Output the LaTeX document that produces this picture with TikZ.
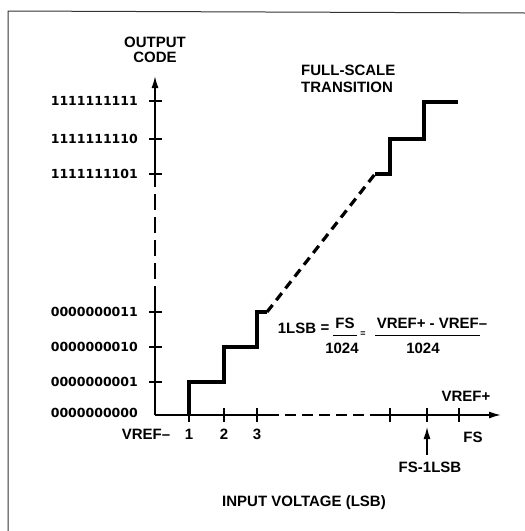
\documentclass[tikz,border=0pt]{standalone}
\usepackage{fontspec}
\setmainfont{Liberation Sans}
\newfontfamily\codefont{DejaVu Sans}
\usetikzlibrary{arrows.meta}
\usetikzlibrary{positioning}
\tikzset{lbl/.style={font=\fontsize{15}{17}\selectfont\bfseries,inner sep=0pt}}
\tikzset{codelbl/.style={font=\codefont\fontsize{12.5}{15}\selectfont\bfseries,inner sep=0pt}}

\begin{document}
\begin{tikzpicture}[x=1pt,y=-1pt]
  % some styles
  \tikzset{
    axis/.style={line width=1.6pt,black},
    axisdash/.style={axis,dash pattern=on 16pt off 7pt},
    xdash/.style={axis,dash pattern=on 11pt off 6pt},
    stair/.style={line width=3.2pt,black,line join=miter},
    stairdash/.style={stair,dash pattern=on 9pt off 6pt},
    tick/.style={line width=1.3pt},
    tip/.style={-{Latex[length=12pt,width=7pt]}}
  }
\useasboundingbox (0,0) rectangle (525,531);
% frame
\draw[line width=1pt,black!80] (8,531) -- (8,11) -- (525,13);

% axes
\coordinate (O) at (155,415);
\coordinate (ya) at (155,302);
\coordinate (yb) at (155,180);
\coordinate (ytip) at (155,76);
\coordinate (xa) at (268,415);
\coordinate (xb) at (378,415);
\coordinate (xtip) at (501,415);
\draw[axis] (O) -- (ya);
\draw[axisdash] (ya) -- (yb);
\draw[axis,tip] (yb) -- (ytip);
\draw[axis] (O) -- (xa);
\draw[xdash] (xa) -- (xb);
\draw[axis,tip] (xb) -- (xtip);

% y ticks and codes
\node[codelbl,anchor=east] (c0) at (138,413) {0000000000};
\foreach \y/\code in {382/0000000001,347/0000000010,312/0000000011,
                      174/1111111101,139/1111111110,101/1111111111} {
   \draw[tick] (149,\y) -- (162,\y);
   \node[codelbl,anchor=east] (c\code) at (138,\y) {\code};
}

% x ticks
\foreach \x in {189,224,257,390,427,459} {
   \draw[tick] (\x,408) -- (\x,422);
}
\node[lbl] (vrefm) at (146,434) {VREF--};
\foreach \x/\n in {189/1,224/2,257/3} {
   \node[lbl] (x\n) at (\x,434) {\n};
}
\node[lbl] (vrefp) at (466,396) {VREF+};
\node[lbl] (fs) at (473,437) {FS};
\node[lbl] (fsl) at (430,467) {FS-1LSB};
\coordinate (fst) at (427,427);
\coordinate (fsb) at (427,455);
\draw[line width=1.3pt,tip] (fsb) -- (fst);

% transfer curve
\draw[stair] (189,415) -- (189,382) -- (224,382) -- (224,347) -- (257,347)
   -- (257,312) -- (267,312);
\draw[stairdash] (267,312) -- (375,174);
\draw[stair] (375,174) -- (390,174) -- (390,139) -- (424,139) -- (424,102) -- (458,102);

% titles
\node[lbl,align=center] (ytitle) at (155,50) {OUTPUT\\[-2pt]CODE};
\node[lbl,align=left,anchor=west] (fstr) at (301,79) {FULL-SCALE\\[0pt]TRANSITION};
\node[lbl] (xtitle) at (304,503) {INPUT VOLTAGE (LSB)};

% 1LSB formula
\node[lbl] (lsb) at (297,328) {1LSB};
\node[lbl] (eqa) at (325,329) {=};
\node[lbl] (fsn) at (345,323) {FS};
\node[lbl] (fsd) at (342,348) {1024};
\node[lbl,font=\fontsize{9}{10}\selectfont\bfseries] (eqb) at (363,334) {=};
\node[lbl] (vn) at (432,323) {VREF+ - VREF--};
\node[lbl] (vd) at (423,348) {1024};
\draw[line width=0.7pt] (333,335) -- (357,335);
\draw[line width=0.7pt] (375,335) -- (480,335);
\end{tikzpicture}
\end{document}
